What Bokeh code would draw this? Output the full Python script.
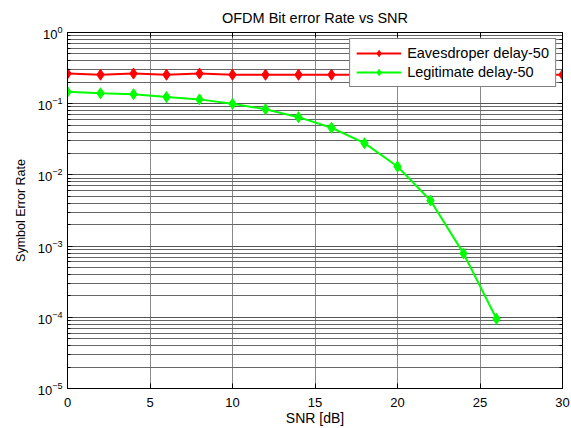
from bokeh.plotting import figure
from bokeh.models import LinearAxis, LogAxis, Range1d, Legend, LegendItem, FixedTicker
from bokeh.embed import file_html
from bokeh.resources import INLINE

snr = [0, 2, 4, 6, 8, 10, 12, 14, 16, 18, 20, 22, 24, 26, 28, 30]
eaves = [0.265, 0.255, 0.265, 0.255, 0.265, 0.255, 0.255, 0.255, 0.255, 0.255,
         0.255, 0.255, 0.255, 0.255, 0.255, 0.255]
snr_legit = [0, 2, 4, 6, 8, 10, 12, 14, 16, 18, 20, 22, 24, 26]
legit = [0.147, 0.140, 0.136, 0.124, 0.115, 0.0996, 0.0837, 0.0647, 0.0459,
         0.0279, 0.0131, 0.00437, 0.00079, 0.0000953]
x_ticks = [0, 5, 10, 15, 20, 25, 30]

FONT = "Liberation Sans"

p = figure(width=571, height=428, y_axis_type="log", output_backend="svg",
           toolbar_location=None, x_range=Range1d(0, 30), y_range=Range1d(1e-5, 1),
           title="OFDM Bit error Rate vs SNR",
           min_border_left=67, min_border_right=9, min_border_top=32, min_border_bottom=40)
p.background_fill_color = "white"
p.border_fill_color = "white"
p.outline_line_color = "black"
p.outline_line_width = 1

p.title.align = "center"
p.title.text_font = FONT
p.title.text_font_style = "normal"
p.title.text_font_size = "14.5px"
p.title.text_color = "black"
p.title.standoff = 13

p.xaxis.ticker = FixedTicker(ticks=x_ticks)
p.xaxis.axis_label = "SNR [dB]"
p.yaxis.axis_label = "Symbol Error Rate"
for ax in [p.xaxis[0], p.yaxis[0]]:
    ax.axis_label_text_font = FONT
    ax.axis_label_text_font_style = "normal"
    ax.axis_label_text_color = "black"
    ax.major_label_text_font = FONT
    ax.major_label_text_color = "black"
    ax.major_tick_in = 5
    ax.major_tick_out = 0
    ax.minor_tick_in = 3
    ax.minor_tick_out = 0
    ax.axis_line_color = "black"
    ax.major_tick_line_color = "black"
    ax.minor_tick_line_color = "black"
p.xaxis.axis_label_text_font_size = "14px"
p.yaxis.axis_label_text_font_size = "12.5px"
p.xaxis.major_label_text_font_size = "13px"
p.yaxis.major_label_text_font_size = "13px"
p.xaxis.minor_tick_in = 0
p.xaxis.axis_label_standoff = 0
p.xaxis.major_label_standoff = 9
p.yaxis.major_label_standoff = 5
p.yaxis.axis_label_standoff = 7

top = LinearAxis(ticker=FixedTicker(ticks=x_ticks), major_label_text_font_size="1px",
                 major_label_text_color=None,
                 major_tick_in=5, major_tick_out=0, minor_tick_in=0, minor_tick_out=0,
                 axis_line_color="black", major_tick_line_color="black")
p.add_layout(top, "above")
right = LogAxis(major_label_text_font_size="1px", major_label_text_color=None,
                major_tick_in=5, major_tick_out=0,
                minor_tick_in=3, minor_tick_out=0, axis_line_color="black",
                major_tick_line_color="black", minor_tick_line_color="black")
p.add_layout(right, "right")
top.major_label_standoff = 0
right.major_label_standoff = 0

p.xgrid.grid_line_color = "#8a8a8a"
p.xgrid.grid_line_width = 1
p.ygrid.grid_line_color = "#555555"
p.ygrid.grid_line_width = 1
p.ygrid.minor_grid_line_color = "#666666"
p.ygrid.minor_grid_line_width = 1

r1 = p.line(snr, eaves, line_color="#ff0000", line_width=2)
m1 = p.scatter(snr, eaves, marker="diamond", size=11, fill_color="#ff0000", line_color="#ff0000")
r2 = p.line(snr_legit, legit, line_color="#00ff00", line_width=2)
m2 = p.scatter(snr_legit, legit, marker="diamond", size=11, fill_color="#00ff00", line_color="#00ff00")

legend = Legend(items=[LegendItem(label="Eavesdroper delay-50", renderers=[r1, m1]),
                       LegendItem(label="Legitimate delay-50", renderers=[r2, m2])],
                location="top_right")
legend.label_text_font = FONT
legend.label_text_font_size = "14.5px"
legend.label_text_color = "black"
legend.border_line_color = "black"
legend.border_line_width = 1
legend.background_fill_alpha = 1
legend.glyph_width = 45
legend.glyph_height = 16
legend.label_height = 16
legend.spacing = 3
legend.padding = 6
legend.margin = 6
legend.label_standoff = 6
p.add_layout(legend)

open("out.html", "w").write(file_html(p, INLINE))
